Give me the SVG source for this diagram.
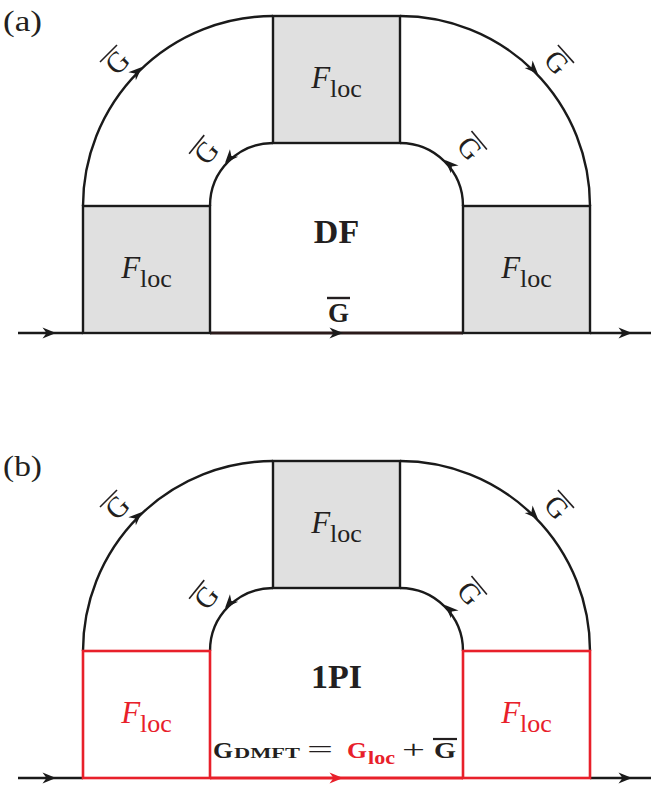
<svg xmlns="http://www.w3.org/2000/svg" width="651" height="787" viewBox="0 0 651 787">
<style>
.ln{fill:none;stroke:#1a1a1a;stroke-width:2.4}
.rd{fill:none;stroke:#e8202a;stroke-width:2.6}
.box{fill:#e0e0e0;stroke:#1a1a1a;stroke-width:2.4}
.rbox{fill:#ffffff;stroke:#e8202a;stroke-width:2.6}
.t{font-family:"Liberation Serif","DejaVu Serif",serif;fill:#231f20}
.fl{font-size:31px;text-anchor:middle}
.b{font-weight:bold}
.g{font-size:29px;text-anchor:middle}
.bar{stroke:#231f20;stroke-width:1.6}
.ah{fill:#1a1a1a}
.ahr{fill:#e8202a}
</style>
<defs>
<path id="arr" d="M0,0 L-13.5,-5.5 L-9.5,0 L-13.5,5.5 Z"/>
</defs>

<!-- panel labels -->
<text id="label-a" class="t" x="3" y="31" font-size="29" textLength="39" lengthAdjust="spacingAndGlyphs">(a)</text>
<text id="label-b" class="t" x="3" y="476" font-size="29" textLength="39" lengthAdjust="spacingAndGlyphs">(b)</text>

<!-- connectors -->
<g id="connectors">
  <!-- panel a -->
  <line class="ln" x1="18" y1="333" x2="83" y2="333"/>
  <line class="ln" x1="590" y1="333" x2="651" y2="333"/>
  <line class="ln" x1="210" y1="333" x2="463" y2="333" style="stroke-width:3.2;stroke:#2a1a1a"/>
  <path class="ln" d="M83,206 A190,190 0 0 1 273,16"/>
  <path class="ln" d="M400,16 A190,190 0 0 1 590,206"/>
  <path class="ln" d="M210,206 A63,63 0 0 1 273,143"/>
  <path class="ln" d="M400,143 A63,63 0 0 1 463,206"/>
  <use href="#arr" class="ah" transform="translate(56,333)"/>
  <use href="#arr" class="ah" transform="translate(632,333)"/>
  <use href="#arr" class="ah" transform="translate(343,333)"/>
  <use href="#arr" class="ah" transform="translate(142,67) rotate(-43)"/>
  <use href="#arr" class="ah" transform="translate(538,74) rotate(46)"/>
  <use href="#arr" class="ah" transform="translate(225,163) rotate(132)"/>
  <use href="#arr" class="ah" transform="translate(445,160) rotate(-136)"/>
  <!-- panel b -->
  <line class="ln" x1="18" y1="778" x2="83" y2="778"/>
  <line class="ln" x1="590" y1="778" x2="651" y2="778"/>
  <line class="rd" x1="210" y1="778" x2="463" y2="778" style="stroke-width:3.2"/>
  <path class="ln" d="M83,651 A190,190 0 0 1 273,461"/>
  <path class="ln" d="M400,461 A190,190 0 0 1 590,651"/>
  <path class="ln" d="M210,651 A63,63 0 0 1 273,588"/>
  <path class="ln" d="M400,588 A63,63 0 0 1 463,651"/>
  <use href="#arr" class="ah" transform="translate(56,778)"/>
  <use href="#arr" class="ah" transform="translate(632,778)"/>
  <use href="#arr" class="ahr" transform="translate(343,778)"/>
  <use href="#arr" class="ah" transform="translate(142,512) rotate(-43)"/>
  <use href="#arr" class="ah" transform="translate(538,519) rotate(46)"/>
  <use href="#arr" class="ah" transform="translate(225,608) rotate(132)"/>
  <use href="#arr" class="ah" transform="translate(445,605) rotate(-136)"/>
</g>

<!-- connector labels (G bar) -->
<g id="glabels">
  <g transform="translate(117,62) rotate(-45)"><text class="t g" x="0" y="10">G</text><line class="bar" x1="-12" y1="-12" x2="12" y2="-12"/></g>
  <g transform="translate(557,62) rotate(48)"><text class="t g" x="0" y="10">G</text><line class="bar" x1="-12" y1="-12" x2="12" y2="-12"/></g>
  <g transform="translate(206,152) rotate(-51)"><text class="t g" x="0" y="10">G</text><line class="bar" x1="-12" y1="-12" x2="12" y2="-12"/></g>
  <g transform="translate(470,148) rotate(50)"><text class="t g" x="0" y="10">G</text><line class="bar" x1="-12" y1="-12" x2="12" y2="-12"/></g>
  <g transform="translate(117,507) rotate(-45)"><text class="t g" x="0" y="10">G</text><line class="bar" x1="-12" y1="-12" x2="12" y2="-12"/></g>
  <g transform="translate(557,507) rotate(48)"><text class="t g" x="0" y="10">G</text><line class="bar" x1="-12" y1="-12" x2="12" y2="-12"/></g>
  <g transform="translate(206,597) rotate(-51)"><text class="t g" x="0" y="10">G</text><line class="bar" x1="-12" y1="-12" x2="12" y2="-12"/></g>
  <g transform="translate(470,593) rotate(50)"><text class="t g" x="0" y="10">G</text><line class="bar" x1="-12" y1="-12" x2="12" y2="-12"/></g>
</g>

<!-- panel a nodes -->
<g id="a-top">
  <rect class="box" x="273" y="16" width="127" height="127"/>
  <text class="t fl" x="336.5" y="88"><tspan font-style="italic">F</tspan><tspan font-size="26" dy="9">loc</tspan></text>
</g>
<g id="a-left">
  <rect class="box" x="83" y="206" width="127" height="127"/>
  <text class="t fl" x="146.5" y="278"><tspan font-style="italic">F</tspan><tspan font-size="26" dy="9">loc</tspan></text>
</g>
<g id="a-right">
  <rect class="box" x="463" y="206" width="127" height="127"/>
  <text class="t fl" x="526.5" y="278"><tspan font-style="italic">F</tspan><tspan font-size="26" dy="9">loc</tspan></text>
</g>
<g id="a-center">
  <text class="t b" x="336.5" y="243" font-size="34" text-anchor="middle">DF</text>
  <text class="t b" x="338.5" y="322" font-size="27" text-anchor="middle">G</text>
  <line x1="327" y1="298" x2="350" y2="298" stroke="#231f20" stroke-width="2.4"/>
</g>

<!-- panel b nodes -->
<g id="b-top">
  <rect class="box" x="273" y="461" width="127" height="127"/>
  <text class="t fl" x="336.5" y="533"><tspan font-style="italic">F</tspan><tspan font-size="26" dy="9">loc</tspan></text>
</g>
<g id="b-left">
  <rect class="rbox" x="83" y="651" width="127" height="127"/>
  <text class="t fl" x="146.5" y="723" style="fill:#e8202a"><tspan font-style="italic">F</tspan><tspan font-size="26" dy="9">loc</tspan></text>
</g>
<g id="b-right">
  <rect class="rbox" x="463" y="651" width="127" height="127"/>
  <text class="t fl" x="526.5" y="723" style="fill:#e8202a"><tspan font-style="italic">F</tspan><tspan font-size="26" dy="9">loc</tspan></text>
</g>
<g id="b-center">
  <text class="t b" x="336.5" y="688" font-size="34" text-anchor="middle">1PI</text>
  <text class="t b" x="213" y="758" font-size="23" textLength="20" lengthAdjust="spacingAndGlyphs">G</text>
  <text class="t b" x="234" y="758" font-size="15" textLength="66" lengthAdjust="spacingAndGlyphs">DMFT</text>
  <text class="t" x="307" y="758" font-size="25" textLength="26" lengthAdjust="spacingAndGlyphs">=</text>
  <text class="t b" x="347" y="758" font-size="23" textLength="20" lengthAdjust="spacingAndGlyphs" style="fill:#e8202a">G</text>
  <text class="t b" x="368" y="764" font-size="18" textLength="27" lengthAdjust="spacingAndGlyphs" style="fill:#e8202a">loc</text>
  <text class="t" x="402" y="758" font-size="25" textLength="23" lengthAdjust="spacingAndGlyphs">+</text>
  <text class="t b" x="434" y="758" font-size="23" textLength="22" lengthAdjust="spacingAndGlyphs">G</text>
  <line x1="433" y1="739" x2="457" y2="739" stroke="#231f20" stroke-width="2.2"/>
</g>
</svg>
